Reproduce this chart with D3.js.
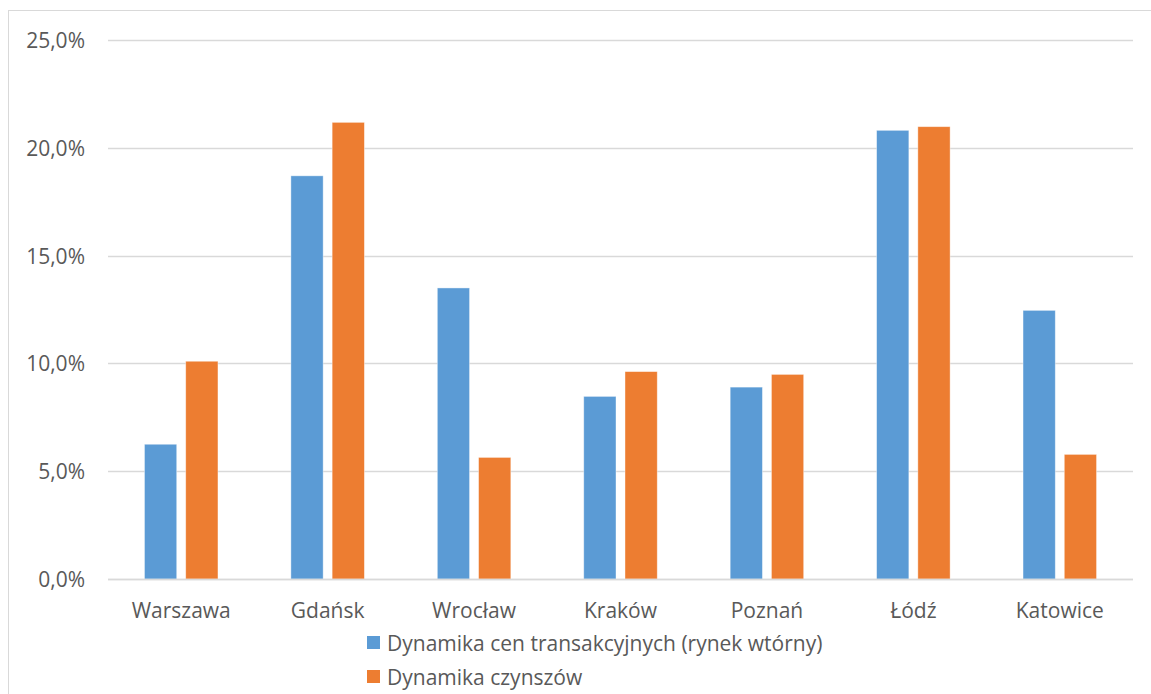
<!DOCTYPE html>
<html>
<head>
<meta charset="utf-8">
<script src="https://cdn.jsdelivr.net/npm/d3@7"></script>
<style>
  html, body { margin: 0; padding: 0; background: #fff; }
  svg { display: block; }
  text { font-family: "Open Sans", sans-serif; fill: #595959; }
</style>
</head>
<body>
<svg id="chart" width="1151" height="694"></svg>
<script>
const categories = ["Warszawa", "Gdańsk", "Wrocław", "Kraków", "Poznań", "Łódź", "Katowice"];
const seriesNames = ["Dynamika cen transakcyjnych (rynek wtórny)", "Dynamika czynszów"];
const transactionPrices = [0.0625, 0.187, 0.135, 0.0847, 0.089, 0.2081, 0.1246];
const rents = [0.101, 0.2118, 0.0564, 0.0962, 0.0949, 0.2098, 0.0578];
const yTicks = [0, 0.05, 0.10, 0.15, 0.20, 0.25];
const colors = ["#5B9BD5", "#ED7D31"];

const seriesValues = [transactionPrices, rents];
const data = categories.map((c, i) => ({
  category: c,
  values: seriesValues.map((s, k) => ({ key: k, value: s[i] }))
}));

const svg = d3.select("#chart");

// chart border (outer frame)
svg.append("rect")
  .attr("x", 8.5).attr("y", 10.5)
  .attr("width", 1200).attr("height", 800)
  .attr("fill", "none").attr("stroke", "#d9d9d9").attr("stroke-width", 1);

const plot = { left: 108, right: 1133, top: 40, bottom: 579 };

const x0 = d3.scaleBand()
  .domain(categories)
  .range([plot.left, plot.right])
  .paddingInner(0.498)
  .paddingOuter(0.249);

const x1 = d3.scaleBand()
  .domain([0, 1])
  .range([0, x0.bandwidth()])
  .paddingInner(0.218)
  .paddingOuter(0);

const y = d3.scaleLinear().domain([0, 0.25]).range([plot.bottom, plot.top]);

const fmt = v => d3.format(".1f")(v * 100).replace(".", ",") + "%";

// gridlines
svg.append("g")
  .selectAll("line")
  .data(yTicks)
  .join("line")
  .attr("x1", plot.left).attr("x2", plot.right)
  .attr("y1", d => Math.round(y(d)) + 0.5).attr("y2", d => Math.round(y(d)) + 0.5)
  .attr("stroke", "#d9d9d9").attr("stroke-width", 1.4);

// y axis labels
const yAxis = d3.axisLeft(y).tickValues(yTicks).tickFormat(fmt).tickSize(0).tickPadding(0);
const gy = svg.append("g").attr("transform", "translate(85,0)").call(yAxis);
gy.select(".domain").remove();
gy.selectAll("text")
  .attr("font-family", "Open Sans, sans-serif")
  .attr("font-size", 21)
  .attr("fill", "#595959")
  .attr("dy", "0.36em");

// bars
svg.append("g")
  .selectAll("g")
  .data(data)
  .join("g")
  .attr("transform", d => `translate(${x0(d.category)},0)`)
  .selectAll("rect")
  .data(d => d.values)
  .join("rect")
  .attr("x", d => x1(d.key))
  .attr("width", x1.bandwidth())
  .attr("y", d => y(d.value))
  .attr("height", d => y(0) - y(d.value))
  .attr("fill", d => colors[d.key])
  .attr("stroke", "#ffffff")
  .attr("stroke-opacity", 0.5)
  .attr("stroke-width", 0.8);

// baseline
svg.append("line")
  .attr("x1", plot.left).attr("x2", plot.right)
  .attr("y1", Math.round(y(0)) + 0.5).attr("y2", Math.round(y(0)) + 0.5)
  .attr("stroke", "#d9d9d9").attr("stroke-width", 1.4);

// x axis labels
const xAxis = d3.axisBottom(x0).tickSize(0).tickPadding(0);
const gx = svg.append("g").attr("transform", "translate(0,618)").call(xAxis);
gx.select(".domain").remove();
gx.selectAll("text")
  .attr("font-family", "Open Sans, sans-serif")
  .attr("font-size", 21)
  .attr("fill", "#595959")
  .attr("dy", 0)
  .attr("y", 0);

// legend
const legend = svg.append("g").attr("transform", "translate(367,0)");
const rowY = [651, 685];
const items = legend.selectAll("g")
  .data(seriesNames)
  .join("g")
  .attr("transform", (d, i) => `translate(0,${rowY[i]})`);
items.append("rect")
  .attr("x", 0).attr("y", -15)
  .attr("width", 13).attr("height", 13)
  .attr("fill", (d, i) => colors[i]);
items.append("text")
  .attr("x", 20).attr("y", 0)
  .attr("font-size", 21)
  .text(d => d);
</script>
</body>
</html>
